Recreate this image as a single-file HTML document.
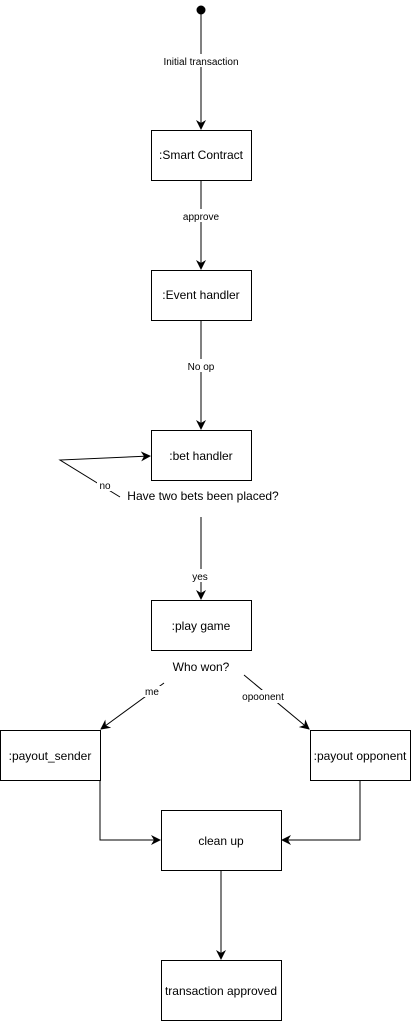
<!DOCTYPE html>
<html><head><style>body{margin:0;background:#fff}svg{display:block}text{font-family:"Liberation Sans",Arial,sans-serif;fill:#000}</style></head><body>
<svg width="411" height="1021" viewBox="0 0 411 1021">
<defs><marker id="a" markerWidth="10" markerHeight="10" refX="9" refY="5" orient="auto" markerUnits="userSpaceOnUse"><path d="M0,0 L10,5 L0,10 L3,5 Z" fill="#000"/></marker></defs>
<g stroke="#000" fill="none" stroke-width="1">
<circle cx="201" cy="10" r="4" fill="#000"/>
<line x1="201" y1="14" x2="201" y2="129" marker-end="url(#a)"/>
<line x1="201" y1="180" x2="201" y2="269" marker-end="url(#a)"/>
<line x1="201" y1="320" x2="201" y2="429" marker-end="url(#a)"/>
<line x1="201" y1="517" x2="201" y2="599" marker-end="url(#a)"/>
<polyline points="120,497 60,460 150,456" marker-end="url(#a)"/>
<line x1="164" y1="683" x2="101" y2="729" marker-end="url(#a)"/>
<line x1="244" y1="675" x2="309" y2="729" marker-end="url(#a)"/>
<polyline points="100,780 100,840 160,840" marker-end="url(#a)"/>
<polyline points="360,780 360,840 282,840" marker-end="url(#a)"/>
<line x1="221" y1="870" x2="221" y2="959" marker-end="url(#a)"/>
<rect x="151.5" y="130.5" width="100" height="50"/>
<rect x="151.5" y="270.5" width="100" height="50"/>
<rect x="151.5" y="430.5" width="100" height="50"/>
<rect x="151.5" y="600.5" width="100" height="50"/>
<rect x="0.5" y="730.5" width="100" height="50"/>
<rect x="310.5" y="730.5" width="100" height="50"/>
<rect x="161.5" y="810.5" width="120" height="60"/>
<rect x="161.5" y="960.5" width="120" height="60"/>
</g>
<g font-size="12" text-anchor="middle">
<text x="201" y="159">:Smart Contract</text>
<text x="201" y="299">:Event handler</text>
<text x="201" y="460">:bet handler</text>
<text x="201" y="630">:play game</text>
<text x="50" y="760">:payout_sender</text>
<text x="360" y="760">:payout opponent</text>
<text x="221" y="845">clean up</text>
<text x="221" y="995">transaction approved</text>
<text x="203" y="500">Have two bets been placed?</text>
<text x="201" y="671">Who won?</text>
</g>
<g font-size="10" text-anchor="middle">
<rect x="158" y="54" width="86" height="13" fill="#fff"/><text x="201" y="65">Initial transaction</text>
<rect x="180" y="209" width="42" height="13" fill="#fff"/><text x="201" y="220">approve</text>
<rect x="184" y="359" width="34" height="13" fill="#fff"/><text x="201" y="370">No op</text>
<rect x="190" y="569" width="22" height="13" fill="#fff"/><text x="200" y="580">yes</text>
<rect x="97" y="479" width="16" height="12" fill="#fff"/><text x="105" y="489">no</text>
<rect x="143" y="686" width="18" height="11" fill="#fff"/><text x="152" y="695">me</text>
<rect x="239" y="690" width="48" height="13" fill="#fff"/><text x="263" y="700">opoonent</text>
</g>
</svg>
</body></html>
